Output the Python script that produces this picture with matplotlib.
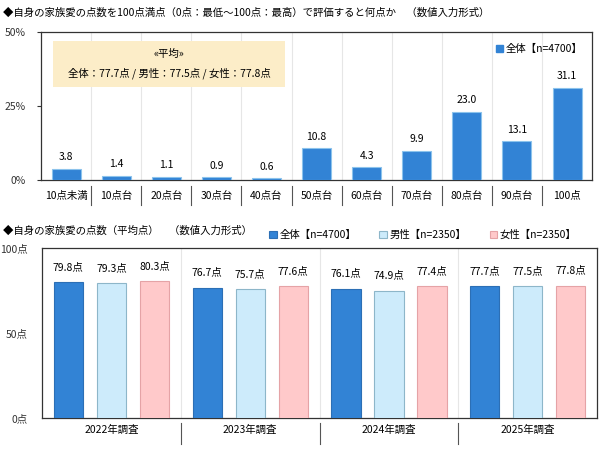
import matplotlib
matplotlib.use("Agg")
import matplotlib.pyplot as plt
import numpy as np

plt.rcParams['font.family'] = ['Noto Sans CJK JP', 'DejaVu Sans']

# top chart data
score_bins = ["10点未満", "10点台", "20点台", "30点台", "40点台", "50点台",
              "60点台", "70点台", "80点台", "90点台", "100点"]
share_all = [3.8, 1.4, 1.1, 0.9, 0.6, 10.8, 4.3, 9.9, 23.0, 13.1, 31.1]

# bottom chart data
years = ["2022年調査", "2023年調査", "2024年調査", "2025年調査"]
avg_all = [79.8, 76.7, 76.1, 77.7]
avg_male = [79.3, 75.7, 74.9, 77.5]
avg_female = [80.3, 77.6, 77.4, 77.8]
series_names = ["全体【n=4700】", "男性【n=2350】", "女性【n=2350】"]

BLUE = "#3283D5"
BLUE_EDGE = "#2C6FB5"
LBLUE = "#CDEBFB"
LBLUE_EDGE = "#8DB6C9"
PINK = "#FFC9CA"
PINK_EDGE = "#E5A3A6"
GRID = "#E6E6E6"
FS = 7.5

fig = plt.figure(figsize=(5.99, 4.5), dpi=100)

# ---------- top chart ----------
ax1 = fig.add_axes([0.0685, 0.600, 0.920, 0.329])
x = np.arange(len(score_bins))
ax1.bar(x, share_all, width=0.58, color=BLUE, edgecolor="#8CC3EC", linewidth=0.8, zorder=3)
for xi, v in zip(x, share_all):
    ax1.text(xi, v + 2.2, f"{v:.1f}", ha="center", va="bottom", fontsize=FS)
ax1.set_xlim(-0.5, len(score_bins) - 0.5)
ax1.set_ylim(0, 50)
ax1.set_yticks([0, 25, 50])
ax1.set_yticklabels(["0%", "25%", "50%"], fontsize=FS)
ax1.set_xticks([])
for b in np.arange(0.5, len(score_bins) - 1, 1):
    ax1.axvline(b, color=GRID, linewidth=0.8, zorder=1)
    ax1.plot([b, b], [-0.04, -0.17], transform=ax1.get_xaxis_transform(),
             color="#555555", linewidth=0.8, clip_on=False)
for xi, lab in zip(x, score_bins):
    ax1.text(xi, -0.105, lab, transform=ax1.get_xaxis_transform(),
             ha="center", va="center", fontsize=FS)
for s in ax1.spines.values():
    s.set_color("#333333")
    s.set_linewidth(0.9)
ax1.tick_params(axis="y", length=3, pad=8, colors="#333333")

# average box
ax1.add_patch(plt.Rectangle((0.022, 0.63), 0.42, 0.31, transform=ax1.transAxes,
                            facecolor="#FCEDC8", edgecolor="none", zorder=2))
ax1.text(0.232, 0.85, "«平均»", transform=ax1.transAxes, ha="center", va="center",
         fontsize=FS, zorder=4)
ax1.text(0.232, 0.72, "全体：77.7点 / 男性：77.5点 / 女性：77.8点", transform=ax1.transAxes,
         ha="center", va="center", fontsize=FS, zorder=4)
ax1.legend([plt.Rectangle((0, 0), 1, 1, color=BLUE)], [series_names[0]],
           loc="upper right", bbox_to_anchor=(1.0, 0.98), frameon=False,
           fontsize=FS, handlelength=0.7, handleheight=0.7, handletextpad=0.3)

fig.text(0.005, 0.971, "◆自身の家族愛の点数を100点満点（0点：最低～100点：最高）で評価すると何点か　（数値入力形式）",
         fontsize=FS, va="center")

# ---------- bottom chart ----------
ax2 = fig.add_axes([0.070, 0.071, 0.927, 0.378])
g = np.arange(len(years))
w = 0.21
off = 0.31
specs = [(avg_all, BLUE, BLUE_EDGE), (avg_male, LBLUE, LBLUE_EDGE), (avg_female, PINK, PINK_EDGE)]
for k, (vals, fc, ec) in enumerate(specs):
    pos = g + (k - 1) * off
    ax2.bar(pos, vals, width=w, color=fc, edgecolor=ec, linewidth=0.8, zorder=3,
            label=series_names[k])
    for p, v in zip(pos, vals):
        ax2.text(p, v + 6, f"{v:.1f}点", ha="center", va="bottom", fontsize=FS)
ax2.set_xlim(-0.5, len(years) - 0.5)
ax2.set_ylim(0, 100)
ax2.set_yticks([0, 50, 100])
ax2.set_yticklabels(["0点", "50点", "100点"], fontsize=FS)
ax2.set_xticks([])
for b in np.arange(0.5, len(years) - 1, 1):
    ax2.axvline(b, color=GRID, linewidth=0.8, zorder=1)
    ax2.plot([b, b], [-0.03, -0.15], transform=ax2.get_xaxis_transform(),
             color="#555555", linewidth=0.8, clip_on=False)
for gi, lab in zip(g, years):
    ax2.text(gi, -0.07, lab, transform=ax2.get_xaxis_transform(),
             ha="center", va="center", fontsize=FS)
for s in ax2.spines.values():
    s.set_color("#333333")
    s.set_linewidth(0.9)
ax2.tick_params(axis="y", length=0, pad=10, colors="#333333")
ax2.legend(loc="lower right", bbox_to_anchor=(0.98, 0.99), ncol=3, frameon=False,
           fontsize=FS, handlelength=0.7, handleheight=0.7, handletextpad=0.3,
           columnspacing=2.2)

fig.text(0.005, 0.488, "◆自身の家族愛の点数（平均点）　（数値入力形式）", fontsize=FS, va="center")

fig.savefig("out.png", dpi=100)
